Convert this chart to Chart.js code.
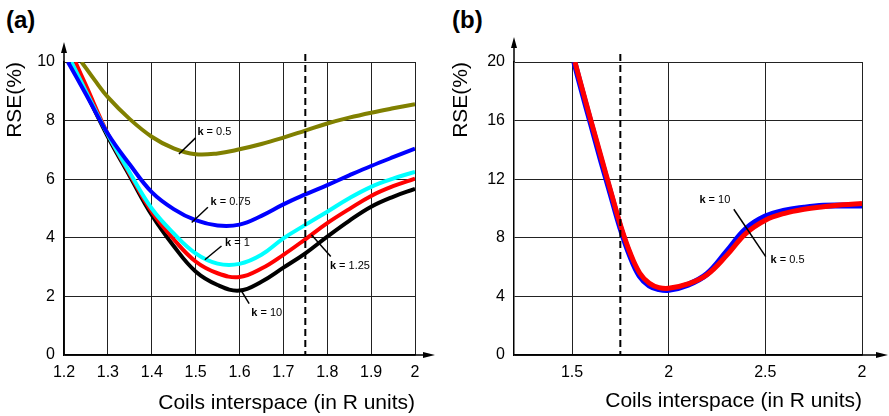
<!DOCTYPE html>
<html>
<head>
<meta charset="utf-8">
<script src="https://cdn.jsdelivr.net/npm/chart.js@4.4.1/dist/chart.umd.min.js"></script>
<style>
  body { margin: 0; background: #fff; width: 889px; height: 416px; overflow: hidden; position: relative; }
  canvas { position: absolute; top: 0; }
  .panel { position: absolute; top: 6px; font: bold 24px "Liberation Sans", Arial, sans-serif; color: #000; }
</style>
</head>
<body>
<div class="panel" style="left:6px">(a)</div>
<div class="panel" style="left:452px">(b)</div>
<canvas id="chartA" width="445" height="416" style="left:0"></canvas>
<canvas id="chartB" width="445" height="416" style="left:444px"></canvas>
<script>
// panel (a): RSE vs coil spacing for several k
const xTickValsA = [1.2, 1.3, 1.4, 1.5, 1.6, 1.7, 1.8, 1.9, 2.0];
const xTickLabelsA = ['1.2', '1.3', '1.4', '1.5', '1.6', '1.7', '1.8', '1.9', '2'];

const xK05 = [1.24, 1.27, 1.3, 1.35, 1.4, 1.45, 1.5, 1.55, 1.6, 1.65, 1.7, 1.75, 1.8, 1.85, 1.9, 1.95, 2.0];
const yK05 = [10, 9.38, 8.8, 8.05, 7.45, 7.05, 6.85, 6.88, 7.02, 7.2, 7.42, 7.66, 7.9, 8.1, 8.27, 8.42, 8.56];

const xK075 = [1.209, 1.25, 1.3, 1.35, 1.4, 1.45, 1.5, 1.55, 1.6, 1.65, 1.7, 1.75, 1.8, 1.85, 1.9, 1.95, 2.0];
const yK075 = [10, 8.9, 7.55, 6.5, 5.56, 4.98, 4.6, 4.42, 4.45, 4.75, 5.14, 5.48, 5.8, 6.13, 6.45, 6.75, 7.04];

const xK1 = [1.217, 1.25, 1.3, 1.35, 1.4, 1.45, 1.5, 1.55, 1.6, 1.65, 1.7, 1.75, 1.8, 1.85, 1.9, 1.95, 2.0];
const yK1 = [10, 9.0, 7.52, 6.22, 5.0, 4.15, 3.47, 3.12, 3.11, 3.42, 3.98, 4.44, 4.89, 5.35, 5.74, 6.02, 6.25];

const xK125 = [1.226, 1.25, 1.3, 1.35, 1.4, 1.45, 1.5, 1.55, 1.6, 1.65, 1.7, 1.75, 1.8, 1.85, 1.9, 1.95, 2.0];
const yK125 = [10, 9.2, 7.54, 6.17, 4.89, 3.95, 3.19, 2.79, 2.66, 2.95, 3.42, 3.95, 4.5, 4.98, 5.43, 5.76, 6.02];

const xK10 = [1.213, 1.25, 1.3, 1.35, 1.4, 1.45, 1.5, 1.55, 1.6, 1.65, 1.7, 1.75, 1.8, 1.85, 1.9, 1.95, 2.0];
const yK10 = [10, 8.95, 7.45, 6.1, 4.78, 3.72, 2.85, 2.39, 2.2, 2.5, 2.98, 3.47, 4.04, 4.58, 5.06, 5.4, 5.67];

// panel (b)
const xTickValsB = [1.5, 2, 2.5, 3];
const xTickLabelsB = ['1.5', '2', '2.5', '2'];

const xB10 = [1.512, 1.55, 1.6, 1.65, 1.7, 1.75, 1.8, 1.85, 1.9, 1.95, 2.0, 2.1, 2.2, 2.3, 2.4, 2.5, 2.6, 2.7, 2.8, 2.9, 3.0];
const yB10 = [20, 18.1, 15.7, 13.3, 11.0, 8.7, 6.8, 5.4, 4.75, 4.5, 4.45, 4.8, 5.55, 7.05, 8.6, 9.45, 9.85, 10.05, 10.18, 10.2, 10.2];

const xB05 = [1.515, 1.55, 1.6, 1.65, 1.7, 1.75, 1.8, 1.85, 1.9, 1.95, 2.0, 2.1, 2.2, 2.3, 2.4, 2.5, 2.6, 2.7, 2.8, 2.9, 3.0];
const yB05 = [20, 18.3, 15.9, 13.55, 11.2, 8.9, 7.0, 5.6, 4.9, 4.6, 4.55, 4.85, 5.5, 6.8, 8.3, 9.2, 9.67, 9.95, 10.12, 10.25, 10.35];

const dashXA = 1.75;
const dashXB = 1.75;

// label anchors (data units): text left/centre, leader line ends
const notesA = [
  { k: '0.5', tx: 1.504, ty: 7.61, x1: 1.462, y1: 6.86, x2: 1.5, y2: 7.41 },
  { k: '0.75', tx: 1.534, ty: 5.22, x1: 1.491, y1: 4.52, x2: 1.528, y2: 5.04 },
  { k: '1', tx: 1.567, ty: 3.84, x1: 1.521, y1: 3.25, x2: 1.559, y2: 3.72 },
  { k: '1.25', tx: 1.806, ty: 3.05, x1: 1.764, y1: 4.1, x2: 1.808, y2: 3.36 },
  { k: '10', tx: 1.627, ty: 1.43, x1: 1.605, y1: 2.17, x2: 1.622, y2: 1.75 }
];
const notesB = [
  { k: '10', tx: 2.159, ty: 10.58, x1: 2.337, y1: 9.95, x2: 2.502, y2: 6.72 },
  { k: '0.5', tx: 2.527, ty: 6.49 }
];

const pts = (xs, ys) => xs.map((x, i) => ({ x: x, y: ys[i] }));
const FONT = '"Liberation Sans", Arial, sans-serif';
Chart.defaults.font.family = FONT;
Chart.defaults.color = '#000';

const extras = {
  id: 'extras',
  afterDatasetsDraw(chart, args, opt) {
    const { ctx, chartArea: a, scales } = chart;
    const xs = scales.x, ys = scales.y;
    ctx.save();
    // dashed marker line
    ctx.strokeStyle = '#000';
    ctx.lineWidth = 2;
    ctx.setLineDash([7, 4]);
    const dx = xs.getPixelForValue(opt.dashX);
    ctx.beginPath();
    ctx.moveTo(dx, a.top - 8);
    ctx.lineTo(dx, a.bottom);
    ctx.stroke();
    ctx.setLineDash([]);

    // axis arrows
    ctx.lineWidth = 1.5;
    ctx.fillStyle = '#000';
    ctx.beginPath();
    ctx.moveTo(a.left, a.top);
    ctx.lineTo(a.left, a.top - opt.arrowY + 6);
    ctx.moveTo(a.right, a.bottom);
    ctx.lineTo(a.right + opt.arrowX - 6, a.bottom);
    ctx.stroke();
    ctx.beginPath();
    ctx.moveTo(a.left, a.top - opt.arrowY);
    ctx.lineTo(a.left - 3, a.top - opt.arrowY + 11);
    ctx.lineTo(a.left + 3, a.top - opt.arrowY + 11);
    ctx.closePath();
    ctx.fill();
    ctx.beginPath();
    ctx.moveTo(a.right + opt.arrowX, a.bottom);
    ctx.lineTo(a.right + opt.arrowX - 12, a.bottom - 3);
    ctx.lineTo(a.right + opt.arrowX - 12, a.bottom + 3);
    ctx.closePath();
    ctx.fill();

    // k labels
    ctx.lineWidth = 1.5;
    ctx.textBaseline = 'middle';
    ctx.textAlign = 'left';
    opt.notes.forEach(n => {
      if (n.x1 !== undefined) {
        ctx.beginPath();
        ctx.moveTo(xs.getPixelForValue(n.x1), ys.getPixelForValue(n.y1));
        ctx.lineTo(xs.getPixelForValue(n.x2), ys.getPixelForValue(n.y2));
        ctx.stroke();
      }
      const px = xs.getPixelForValue(n.tx), py = ys.getPixelForValue(n.ty);
      ctx.font = 'bold 11px ' + FONT;
      ctx.fillText('k', px, py);
      const w = ctx.measureText('k').width;
      ctx.font = '11px ' + FONT;
      ctx.fillText(' = ' + n.k, px + w, py);
    });
    ctx.restore();
  }
};

function makeChart(id, datasets, cfg) {
  new Chart(document.getElementById(id), {
    type: 'line',
    data: { datasets: datasets },
    plugins: [extras],
    options: {
      responsive: false,
      animation: false,
      layout: { padding: { left: 0, top: 62, right: cfg.padRight, bottom: 0 } },
      elements: { point: { radius: 0 }, line: { tension: 0.4 } },
      plugins: {
        legend: { display: false },
        tooltip: { enabled: false },
        extras: cfg.extras
      },
      scales: {
        x: {
          type: 'linear',
          min: cfg.xMin, max: cfg.xMax,
          afterBuildTicks: s => { s.ticks = cfg.tickVals.map(v => ({ value: v })); },
          afterFit: s => { s.height = 61; },
          ticks: { callback: (v, i) => cfg.tickLabels[i], font: { size: 16 }, padding: 8, maxRotation: 0 },
          grid: { color: '#222', lineWidth: 1, drawTicks: false },
          border: { color: '#000', width: 1.5 },
          title: { display: true, text: 'Coils interspace (in R units)', align: 'end',
                   font: { size: 21 }, padding: { top: 0, bottom: cfg.xTitlePad } }
        },
        y: {
          min: 0, max: cfg.yMax,
          afterFit: s => { s.width = cfg.yWidth; },
          ticks: { stepSize: cfg.yStep, font: { size: 16 }, padding: 9 },
          grid: { color: '#222', lineWidth: 1, drawTicks: false },
          border: { color: '#000', width: 1.5 },
          title: { display: true, text: 'RSE(%)', align: 'end',
                   font: { size: 21 }, padding: { top: cfg.yTitlePad, bottom: 0 } }
        }
      }
    }
  });
}

makeChart('chartA', [
  { data: pts(xK075, yK075), borderColor: '#0000ff', borderWidth: 4 },
  { data: pts(xK1, yK1), borderColor: '#00ffff', borderWidth: 4 },
  { data: pts(xK125, yK125), borderColor: '#ff0000', borderWidth: 4 },
  { data: pts(xK10, yK10), borderColor: '#000000', borderWidth: 4 },
  { data: pts(xK05, yK05), borderColor: '#808000', borderWidth: 4 }
], {
  padRight: 30, xMin: 1.2, xMax: 2.0, yMax: 10, yStep: 2, yWidth: 64,
  tickVals: xTickValsA, tickLabels: xTickLabelsA, xTitlePad: 0, yTitlePad: 3,
  extras: { dashX: dashXA, arrowX: 20, arrowY: 20, notes: notesA }
});

makeChart('chartB', [
  { data: pts(xB05, yB05), borderColor: '#ff0000', borderWidth: 5 },
  { data: pts(xB10, yB10), borderColor: '#0000ff', borderWidth: 6 }
], {
  padRight: 27, xMin: 1.2, xMax: 3.0, yMax: 20, yStep: 4, yWidth: 70,
  tickVals: xTickValsB, tickLabels: xTickLabelsB, xTitlePad: 2, yTitlePad: 5,
  extras: { dashX: dashXB, arrowX: 26, arrowY: 25, notes: notesB }
});
</script>
</body>
</html>
